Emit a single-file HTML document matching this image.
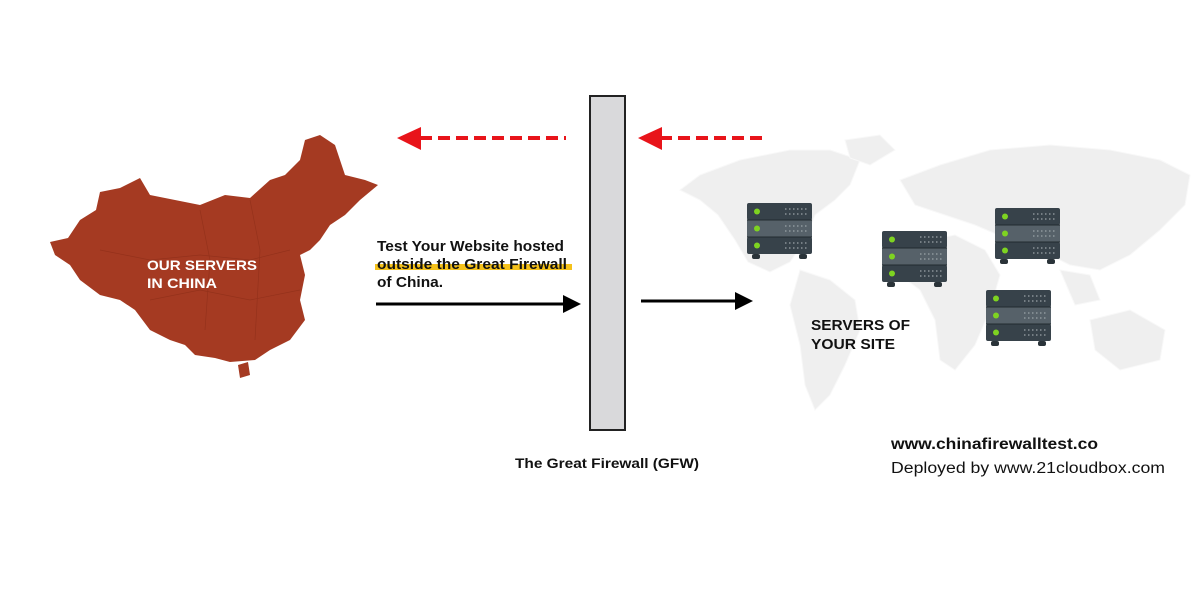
<!DOCTYPE html>
<html><head><meta charset="utf-8"><style>
body{margin:0;background:#fff;}
svg{display:block}
text{font-family:"Liberation Sans",sans-serif;}
</style></head><body>
<svg width="1200" height="594" viewBox="0 0 1200 594" xmlns="http://www.w3.org/2000/svg">
<rect width="1200" height="594" fill="#fff"/>
<g fill="#efefef" stroke="#f8f8f8" stroke-width="1">
<path d="M700,175 L740,160 L790,150 L830,150 L860,160 L850,185 L835,200 L815,215 L805,240 L790,262 L770,272 L748,262 L735,240 L718,215 L700,200 L680,190 Z"/>
<path d="M800,270 L830,280 L855,300 L860,330 L845,365 L830,395 L815,410 L805,385 L800,345 L790,305 Z"/>
<path d="M845,140 L880,135 L895,150 L870,165 L850,158 Z"/>
<path d="M900,180 L940,165 L990,150 L1050,145 L1110,150 L1160,160 L1190,175 L1185,205 L1160,230 L1130,255 L1100,270 L1070,265 L1040,250 L1010,240 L975,225 L945,215 L915,205 Z"/>
<path d="M905,245 L955,235 L985,250 L1000,275 L990,310 L975,345 L955,370 L940,360 L935,320 L920,290 L900,275 Z"/>
<path d="M1090,320 L1130,310 L1165,330 L1160,360 L1120,370 L1095,350 Z"/>
<path d="M1060,270 L1090,275 L1100,300 L1075,305 Z"/>
</g>
<path fill="#a53a22" d="M50,242 L68,238 L80,220 L96,210 L100,192 L120,188 L140,178 L150,195 L175,200 L200,205 L225,195 L250,198 L270,180 L285,175 L300,160 L305,140 L320,135 L335,145 L345,175 L365,180 L378,185 L360,200 L345,215 L330,225 L320,240 L310,250 L300,255 L305,275 L300,300 L305,320 L290,340 L270,350 L255,360 L230,362 L215,358 L195,355 L185,345 L170,340 L150,330 L135,310 L120,300 L100,295 L80,280 L70,265 L55,255 Z"/>
<path fill="#a53a22" d="M238,365 L248,362 L250,375 L240,378 Z"/>
<g stroke="#8a2c18" stroke-width="0.7" fill="none" opacity="0.6">
<path d="M100,250 L150,260 L200,255 L250,260 L290,250"/><path d="M150,300 L200,290 L250,300 L300,290"/><path d="M200,210 L210,260 L205,330"/><path d="M250,200 L260,250 L255,340"/>
</g>
<text x="147" y="270" fill="#fff" font-size="14" font-weight="bold" textLength="110" lengthAdjust="spacingAndGlyphs">OUR SERVERS</text>
<text x="147" y="288" fill="#fff" font-size="14" font-weight="bold" textLength="70" lengthAdjust="spacingAndGlyphs">IN CHINA</text>
<rect x="590" y="96" width="35" height="334" fill="#d9d9db" stroke="#222" stroke-width="2"/>
<text x="515" y="468" font-size="14" font-weight="bold" fill="#111" textLength="184" lengthAdjust="spacingAndGlyphs">The Great Firewall (GFW)</text>
<line x1="420" y1="138" x2="566" y2="138" stroke="#e8141a" stroke-width="4" stroke-dasharray="12,6"/>
<polygon points="397,138 421,127 421,150" fill="#e8141a"/>
<line x1="660" y1="138" x2="766" y2="138" stroke="#e8141a" stroke-width="4" stroke-dasharray="12,6"/>
<polygon points="638,138 662,127 662,150" fill="#e8141a"/>
<rect x="375" y="264" width="197" height="6" fill="#f5c21b"/>
<text x="377" y="251" font-size="14.5" font-weight="bold" fill="#111" textLength="187" lengthAdjust="spacingAndGlyphs">Test Your Website hosted</text>
<text x="377" y="269" font-size="14.5" font-weight="bold" fill="#111" textLength="190" lengthAdjust="spacingAndGlyphs">outside the Great Firewall</text>
<text x="377" y="287" font-size="14.5" font-weight="bold" fill="#111" textLength="66" lengthAdjust="spacingAndGlyphs">of China.</text>
<line x1="376" y1="304" x2="565" y2="304" stroke="#000" stroke-width="3"/>
<polygon points="581,304 563,295 563,313" fill="#000"/>
<line x1="641" y1="301" x2="737" y2="301" stroke="#000" stroke-width="3"/>
<polygon points="753,301 735,292 735,310" fill="#000"/>
<defs>
<g id="srv">
<rect x="0" y="0" width="65" height="17" rx="2" fill="#37424a"/>
<rect x="0" y="17" width="65" height="17" fill="#566169"/>
<rect x="0" y="34" width="65" height="17" rx="2" fill="#37424a"/>
<line x1="0" y1="17" x2="65" y2="17" stroke="#222b30" stroke-width="1"/>
<line x1="0" y1="34" x2="65" y2="34" stroke="#222b30" stroke-width="1"/>
<circle cx="10" cy="8.5" r="3" fill="#7ed321"/>
<circle cx="10" cy="25.5" r="3" fill="#7ed321"/>
<circle cx="10" cy="42.5" r="3" fill="#7ed321"/>
<g stroke="#9aa3a8" stroke-width="1.2" stroke-dasharray="1.5,2.5">
<line x1="38" y1="6" x2="60" y2="6"/><line x1="38" y1="11" x2="60" y2="11"/>
<line x1="38" y1="23" x2="60" y2="23"/><line x1="38" y1="28" x2="60" y2="28"/>
<line x1="38" y1="40" x2="60" y2="40"/><line x1="38" y1="45" x2="60" y2="45"/>
</g>
<rect x="5" y="51" width="8" height="5" rx="2" fill="#2a3339"/>
<rect x="52" y="51" width="8" height="5" rx="2" fill="#2a3339"/>
</g>
</defs>
<use href="#srv" x="747" y="203"/>
<use href="#srv" x="882" y="231"/>
<use href="#srv" x="995" y="208"/>
<use href="#srv" x="986" y="290"/>
<text x="811" y="330" font-size="14.5" font-weight="bold" fill="#111" textLength="99" lengthAdjust="spacingAndGlyphs">SERVERS OF</text>
<text x="811" y="349" font-size="14.5" font-weight="bold" fill="#111" textLength="84" lengthAdjust="spacingAndGlyphs">YOUR SITE</text>
<text x="891" y="449" font-size="15.5" font-weight="bold" fill="#111" textLength="207" lengthAdjust="spacingAndGlyphs">www.chinafirewalltest.co</text>
<text x="891" y="473" font-size="15.5" fill="#111" textLength="274" lengthAdjust="spacingAndGlyphs">Deployed by www.21cloudbox.com</text>
</svg>
</body></html>
